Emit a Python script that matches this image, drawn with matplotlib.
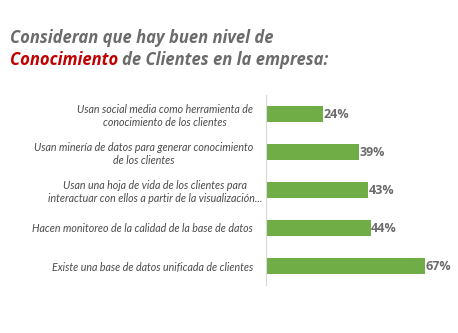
import numpy as np
import matplotlib.pyplot as plt
from matplotlib.transforms import ScaledTranslation

# survey items (top to bottom) and share of companies
items = [
    "Usan social media como herramienta de\nconocimiento de los clientes",
    "Usan minería de datos para generar conocimiento\nde los clientes",
    "Usan una hoja de vida de los clientes para\ninteractuar con ellos a partir de la visualización...",
    "Hacen monitoreo de la calidad de la base de datos",
    "Existe una base de datos unificada de clientes",
]
values = [24, 39, 43, 44, 67]

green = "#70ad47"
gray = "#6b6b6b"
red = "#c00000"

fig = plt.figure(figsize=(4.58, 3.33), dpi=100)
ax = fig.add_axes([266 / 458, 1 - 285 / 333, 190 / 458, 190 / 333])

y = np.arange(len(values))
ax.barh(y, values, height=0.4, color=green)
ax.set_ylim(len(values) - 0.5, -0.5)
ax.set_xlim(0, 80)

for yi, v in zip(y, values):
    ax.text(v + 0.3, yi, f"{v}%", va="center", ha="left", fontsize=9,
            fontweight="bold", color=gray, family="Open Sans")

ax.set_yticks(y)
ax.set_yticklabels(items, fontsize=7.7, style="italic", color="#4a4a4a",
                   family="Lato", linespacing=1.25, multialignment="center")
ax.tick_params(axis="y", length=0, pad=9.4)
# the long wrapped label runs closer to the axis
lab = ax.get_yticklabels()[2]
lab.set_transform(lab.get_transform() + ScaledTranslation(0.09, 0, fig.dpi_scale_trans))
ax.set_xticks([])
for s in ["top", "right", "bottom"]:
    ax.spines[s].set_visible(False)
ax.spines["left"].set_color("#d9d9d9")
ax.spines["left"].set_linewidth(0.8)

# two-line title, second line starts with a red word
fig.text(10 / 458, 1 - 38 / 333, "Consideran que hay buen nivel de",
         fontsize=12, fontweight="bold", style="italic", color=gray,
         family="Open Sans", va="center", ha="left")
t = fig.text(10 / 458, 1 - 60 / 333, "Conocimiento",
             fontsize=12, fontweight="bold", style="italic", color=red,
             family="Open Sans", va="center", ha="left")
fig.canvas.draw()
bb = t.get_window_extent()
fig.text((bb.x1 + 4) / 458, 1 - 60 / 333, "de Clientes en la empresa:",
         fontsize=12, fontweight="bold", style="italic", color=gray,
         family="Open Sans", va="center", ha="left")

fig.savefig("out.png", dpi=100)
